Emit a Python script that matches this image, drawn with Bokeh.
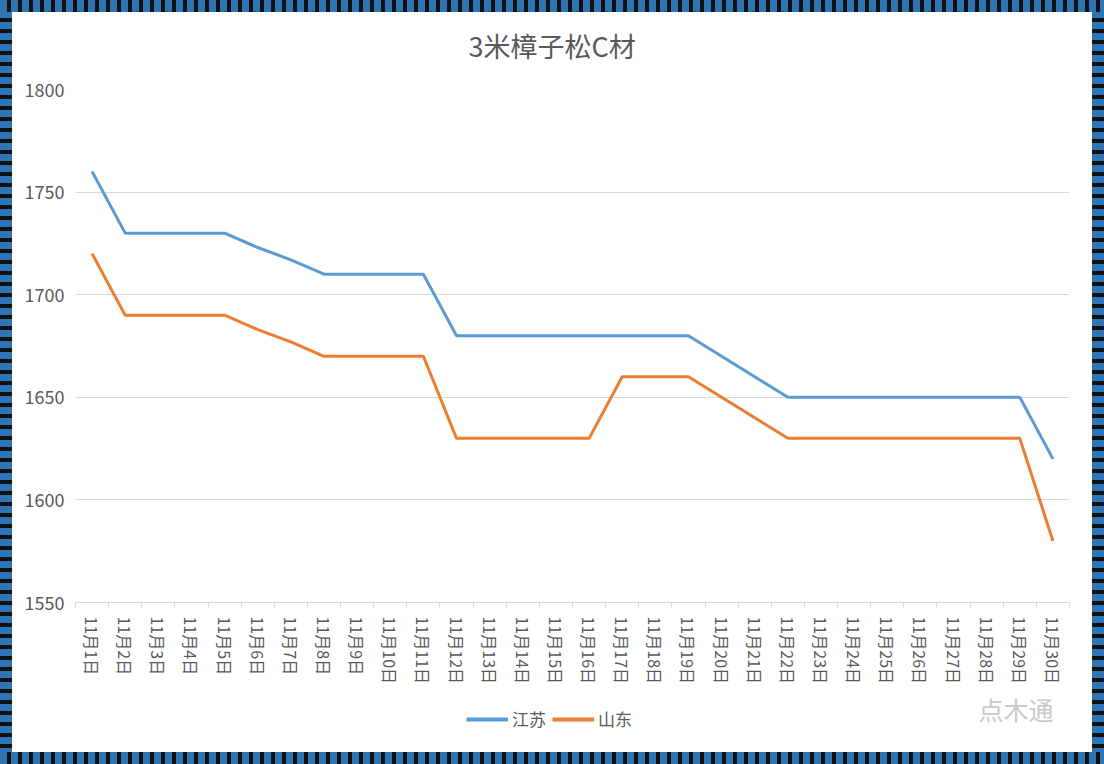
from bokeh.plotting import figure
from bokeh.models import FixedTicker, Legend, LegendItem, Label, Range1d
from bokeh.layouts import column
from bokeh.embed import file_html
from bokeh.resources import INLINE

title_text = "3米樟子松C材"
days = list(range(1, 31))
day_labels = [f"11月{d}日" for d in days]
jiangsu = [1760, 1730, 1730, 1730, 1730, 1723, 1717, 1710, 1710, 1710, 1710,
           1680, 1680, 1680, 1680, 1680, 1680, 1680, 1680, 1670, 1660,
           1650, 1650, 1650, 1650, 1650, 1650, 1650, 1650, 1620]
shandong = [1720, 1690, 1690, 1690, 1690, 1683, 1677, 1670, 1670, 1670, 1670,
            1630, 1630, 1630, 1630, 1630, 1660, 1660, 1660, 1650, 1640,
            1630, 1630, 1630, 1630, 1630, 1630, 1630, 1630, 1580]
series_names = ["江苏", "山东"]
series_colors = ["#5B9BD5", "#ED7D31"]
y_ticks = [1550, 1600, 1650, 1700, 1750, 1800]
watermark = "点木通"

FONT = "Noto Sans CJK SC"
GREY = "#595959"


def strip(height):
    s = figure(width=1080, height=height, output_backend="svg", toolbar_location=None,
               x_range=Range1d(0.5, 30.5), y_range=Range1d(0, 1),
               min_border_left=63, min_border_right=23, min_border_top=0, min_border_bottom=0)
    s.axis.visible = False
    s.grid.visible = False
    s.outline_line_color = None
    s.border_fill_color = "white"
    return s


# header strip holding the title
h = strip(60)
h.add_layout(Label(x=393, y=27, x_units="screen", y_units="screen", text=title_text,
                   text_font=FONT, text_font_size="27px", text_color=GREY,
                   text_baseline="middle"))

p = figure(width=1080, height=618, output_backend="svg", toolbar_location=None,
           x_range=Range1d(0.5, 30.5), y_range=Range1d(1550, 1800),
           min_border_left=63, min_border_right=23, min_border_top=17,
           min_border_bottom=88)
p.outline_line_color = None
p.background_fill_color = "white"
p.border_fill_color = "white"

p.xaxis.ticker = FixedTicker(ticks=days, minor_ticks=[d + 0.5 for d in range(0, 31)])
p.xaxis.major_label_overrides = {d: l for d, l in zip(days, day_labels)}
p.xaxis.major_label_orientation = "vertical"
p.xaxis.major_tick_line_color = None
p.xaxis.minor_tick_in = 0
p.xaxis.minor_tick_out = 5
p.xaxis.minor_tick_line_color = "#d9d9d9"
p.xaxis.axis_line_color = "#d9d9d9"
p.xaxis.major_label_text_font = FONT
p.xaxis.major_label_text_font_size = "16px"
p.xaxis.major_label_text_color = GREY
p.xaxis.major_label_standoff = 8

p.yaxis.ticker = FixedTicker(ticks=y_ticks)
p.yaxis.axis_line_color = None
p.yaxis.major_tick_line_color = None
p.yaxis.minor_tick_line_color = None
p.yaxis.major_label_text_font = FONT
p.yaxis.major_label_text_font_size = "18px"
p.yaxis.major_label_text_color = GREY
p.yaxis.major_label_standoff = 5

p.xgrid.grid_line_color = None
p.ygrid.grid_line_color = "#d9d9d9"
p.ygrid.grid_line_width = 1

p.line(days, jiangsu, line_color=series_colors[0], line_width=3)
p.line(days, shandong, line_color=series_colors[1], line_width=3)

# footer strip holding the legend and the watermark (its frame is aligned with the chart's)
f = strip(62)
l1 = f.line(days, jiangsu, line_color=series_colors[0], line_width=4)
l2 = f.line(days, shandong, line_color=series_colors[1], line_width=4)
legend = Legend(items=[LegendItem(label=series_names[0], renderers=[l1]),
                       LegendItem(label=series_names[1], renderers=[l2])],
                orientation="horizontal", location=(391, 21),
                padding=0, margin=0, spacing=6, glyph_width=42, glyph_height=20,
                label_standoff=4, label_text_font=FONT, label_text_font_size="17px",
                label_text_color=GREY, background_fill_alpha=0, border_line_color=None)
f.add_layout(legend, "center")
f.add_layout(Label(x=903, y=44, x_units="screen", y_units="screen", text=watermark,
                   text_font=FONT, text_font_size="25px", text_color="#c8c8c8",
                   text_baseline="middle"))

B = "#2e75b6"
K = "#111111"
hs = f"repeating-linear-gradient(90deg, {B} 0px, {B} 7px, {K} 7px, {K} 11px)"
vs = f"repeating-linear-gradient(180deg, {B} 0px, {B} 7px, {K} 7px, {K} 11px)"
layout = column(h, p, f, spacing=0, styles={
    "padding": "12px",
    "background": f"{hs} top left / 100% 12px no-repeat, {hs} bottom left / 100% 12px no-repeat, "
                  f"{vs} top left / 12px 100% no-repeat, {vs} top right / 12px 100% no-repeat, white",
})

open("out.html", "w").write(file_html(layout, INLINE))
